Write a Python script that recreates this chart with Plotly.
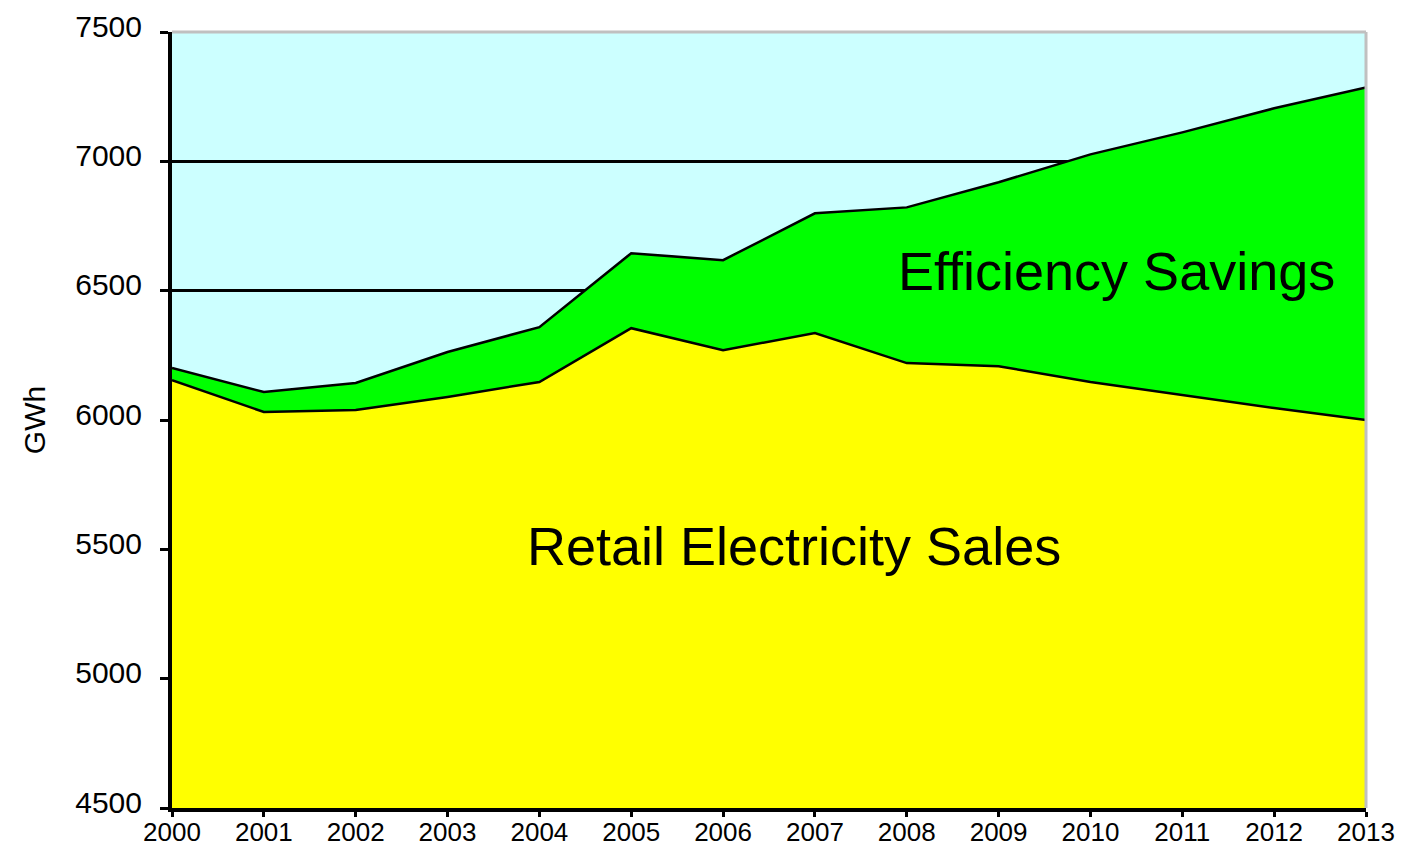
"""Retail electricity sales vs. efficiency savings, stacked area chart."""

import plotly.graph_objects as go

# Data (GWh)
years = list(range(2000, 2014))
retail_sales = [6154, 6031, 6039, 6089, 6147, 6355, 6270, 6336, 6220, 6208, 6147, 6097, 6046, 6000]
efficiency_savings = [47, 77, 104, 174, 212, 290, 348, 463, 602, 711, 880, 1015, 1159, 1286]
y_ticks = [4500, 5000, 5500, 6000, 6500, 7000, 7500]

_FONT = "Liberation Sans, Arial, sans-serif"
_SKY = "#CCFFFF"
_YELLOW = "#FFFF00"
_GREEN = "#00FF00"

fig = go.Figure()
fig.add_trace(
    go.Scatter(
        x=years,
        y=retail_sales,
        name="Retail Electricity Sales",
        mode="lines",
        stackgroup="gwh",
        line=dict(color="black", width=2.5),
        fillcolor=_YELLOW,
    )
)
fig.add_trace(
    go.Scatter(
        x=years,
        y=efficiency_savings,
        name="Efficiency Savings",
        mode="lines",
        stackgroup="gwh",
        line=dict(color="black", width=2.5),
        fillcolor=_GREEN,
    )
)

# In-plot labels instead of a legend
fig.add_annotation(
    x=2010.28, y=6575, text="Efficiency Savings", showarrow=False,
    font=dict(size=54, color="black", family=_FONT),
)
fig.add_annotation(
    x=2006.77, y=5513, text="Retail Electricity Sales", showarrow=False,
    font=dict(size=54, color="black", family=_FONT),
)

# gray top/right frame, like the spreadsheet plot area border
for x0, y0, x1, y1 in [(0, 1, 1, 1), (1, 0, 1, 1)]:
    fig.add_shape(
        type="line", xref="paper", yref="paper", x0=x0, y0=y0, x1=x1, y1=y1,
        line=dict(color="#C0C0C0", width=3),
    )

# the page body adds an 8px offset, so margins are trimmed to compensate
fig.update_layout(
    width=1408,
    height=847,
    paper_bgcolor="white",
    plot_bgcolor=_SKY,
    showlegend=False,
    font=dict(family=_FONT, color="black"),
    margin=dict(l=164, r=50, t=24, b=47),
)
fig.update_xaxes(
    range=[2000, 2013],
    tickmode="array",
    tickvals=years,
    ticktext=[str(y) for y in years],
    tickfont=dict(size=26),
    ticks="outside",
    ticklen=5,
    tickwidth=3,
    tickcolor="black",
    ticklabelstandoff=-7,
    showline=True,
    linecolor="black",
    linewidth=4,
    showgrid=False,
    zeroline=False,
    automargin=False,
)
fig.update_yaxes(
    range=[4500, 7500],
    tickmode="array",
    tickvals=y_ticks,
    tickfont=dict(size=30),
    ticks="outside",
    ticklen=8,
    tickwidth=3,
    tickcolor="black",
    ticklabelstandoff=12,
    ticklabelshift=-6,
    showline=True,
    linecolor="black",
    linewidth=4,
    showgrid=True,
    gridcolor="black",
    gridwidth=3,
    zeroline=False,
    automargin=False,
    title=dict(text="GWh", font=dict(size=30), standoff=22),
)

fig.write_html("out.html")
